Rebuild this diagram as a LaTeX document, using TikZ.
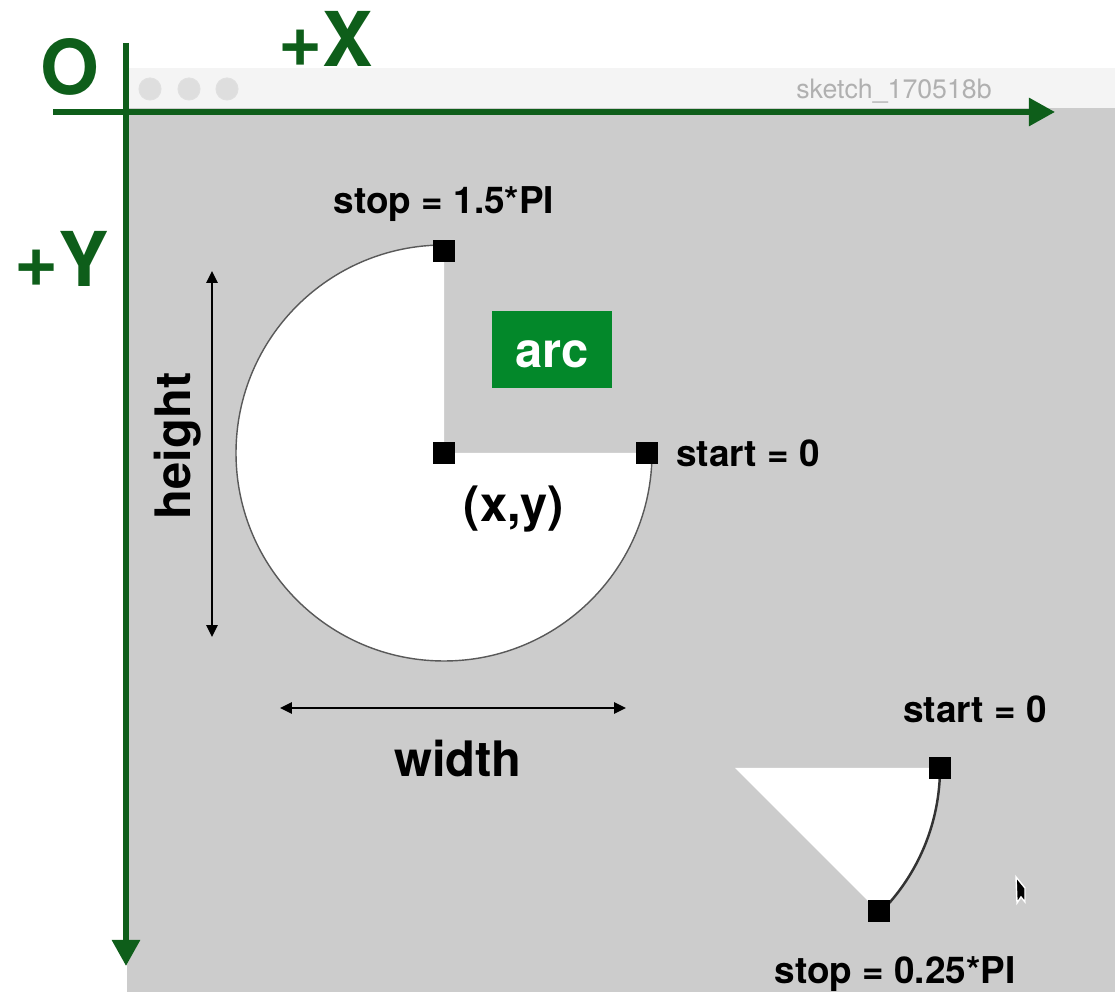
\documentclass[tikz,border=0pt]{standalone}
\usepackage{fontspec}
\setmainfont{TeX Gyre Heros}
\usetikzlibrary{arrows.meta}
\definecolor{axisgreen}{RGB}{14,94,26}
\definecolor{boxgreen}{RGB}{3,136,42}
\definecolor{canvasgray}{RGB}{204,204,204}
\definecolor{barwhite}{RGB}{244,244,244}
\definecolor{btngray}{RGB}{222,222,222}
\definecolor{titlegray}{RGB}{176,176,176}
\tikzset{
  axis/.style={draw=axisgreen, line width=1.6pt, -{Triangle[length=7.4pt,width=7.7pt]}},
  dim/.style={line width=0.48pt, {Triangle[length=3.4pt,width=3.2pt]}-{Triangle[length=3.4pt,width=3.2pt]}},
  corner/.style={fill=black, minimum size=6.3pt, inner sep=0pt},
  lbl/.style={font=\bfseries\fontsize{10.5}{12}\selectfont, anchor=base},
  biglbl/.style={font=\bfseries\fontsize{13.9}{16}\selectfont, anchor=base},
  axlbl/.style={text=axisgreen, font=\bfseries\fontsize{21.5}{24}\selectfont, anchor=base},
}
\begin{document}
\begin{tikzpicture}[x=0.01cm, y=-0.01cm]
  \useasboundingbox (0,0) rectangle (1115,992);
  % sketch window
  \fill[canvasgray] (127,108) rectangle (1115,992);
  \fill[barwhite] (127,68) rectangle (1115,108);
  \foreach \bx in {150,189,227}
    \filldraw[fill=btngray, draw=black!12, line width=0.3pt] (\bx,89) circle [radius=11];
  \node[font=\fontsize{7.6}{9}\selectfont, text=titlegray, anchor=base] (title) at (894,99) {sketch\_170518b};
  % big arc, start = 0, stop = 1.5*PI
  \coordinate (c) at (444,453);
  \fill[white] (c) -- ++(0:208) arc[start angle=0, end angle=270, radius=208] -- cycle;
  \draw[black!65, line width=0.4pt] (c) ++(0:208) arc[start angle=0, end angle=270, radius=208];
  % small arc, start = 0, stop = 0.25*PI
  \coordinate (d) at (735,768);
  \fill[white] (d) -- ++(0:205) arc[start angle=0, end angle=45, radius=205] -- cycle;
  \draw[black!80, line width=0.7pt] (d) ++(0:205) arc[start angle=0, end angle=45, radius=205];
  % axes
  \coordinate (xo) at (53,112);
  \coordinate (xe) at (1055,112);
  \coordinate (yo) at (126,43);
  \coordinate (ye) at (126,966);
  \draw[axis] (xo) -- (xe);
  \draw[axis] (yo) -- (ye);
  \node[axlbl] (o) at (70,95) {O};
  \node[axlbl] (px) at (326,67) {+X};
  \node[axlbl] (py) at (62,287) {+Y};
  % corner points
  \node[corner] (p0) at (444,251) {};
  \node[corner] (p1) at (444,453) {};
  \node[corner] (p2) at (647,453) {};
  \node[corner] (q0) at (940,768) {};
  \node[corner] (q1) at (879,911) {};
  % labels
  \node[lbl] (stop1) at (444,214) {stop = 1.5*PI};
  \node[lbl] (start1) at (748,467) {start = 0};
  \node[biglbl] (xy) at (514,522) {(x,y)};
  \node[lbl] (start2) at (975,723) {start = 0};
  \node[lbl] (stop2) at (895,984) {stop = 0.25*PI};
  \node[fill=boxgreen, text=white, font=\bfseries\fontsize{13.9}{16}\selectfont,
        text height=10.2pt, text depth=0pt,
        minimum width=34.1pt, minimum height=21.9pt, inner sep=0pt] (arc) at (552,350) {arc};
  % width and height
  \coordinate (h0) at (212,271);
  \coordinate (h1) at (212,637);
  \coordinate (w0) at (280,708);
  \coordinate (w1) at (626,708);
  \draw[dim] (h0) -- (h1);
  \draw[dim] (w0) -- (w1);
  \node[biglbl, rotate=90] (ht) at (190,446) {height};
  \node[biglbl] (wd) at (458,777) {width};
  % mouse pointer
  \filldraw[fill=black, draw=white, line width=0.4pt] (1016,877) -- (1025,888) -- (1025,902) -- (1021,897) -- (1017,903) -- cycle;
\end{tikzpicture}
\end{document}
